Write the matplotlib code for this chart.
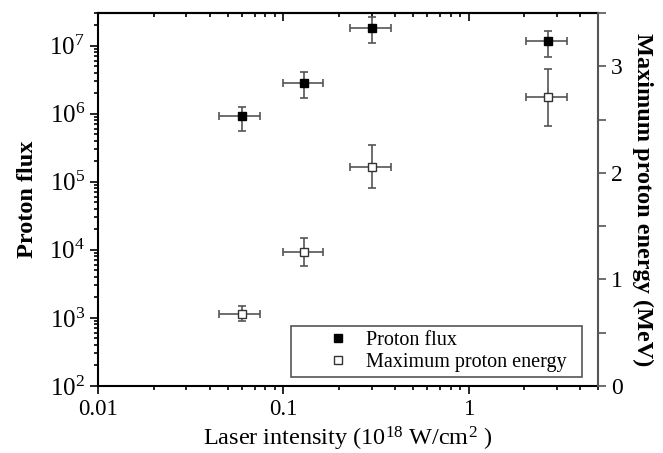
import matplotlib
matplotlib.use('Agg')
import matplotlib.pyplot as plt
from matplotlib.lines import Line2D
from matplotlib.ticker import LogLocator, MultipleLocator, FixedLocator, NullFormatter

plt.rcParams['font.family'] = 'Liberation Serif'
plt.rcParams['mathtext.fontset'] = 'custom'
plt.rcParams['mathtext.rm'] = 'Liberation Serif'
plt.rcParams['mathtext.it'] = 'Liberation Serif:italic'
plt.rcParams['mathtext.bf'] = 'Liberation Serif:bold'

# laser intensity (1e18 W/cm^2) and its error
intensity = [0.06, 0.13, 0.30, 2.7]
intensity_lo = [0.015, 0.03, 0.072, 0.67]
intensity_hi = [0.015, 0.034, 0.08, 0.7]

# proton flux with asymmetric errors
flux = [9.1e5, 2.8e6, 1.8e7, 1.18e7]
flux_lo = [3.6e5, 1.1e6, 0.7e7, 0.49e7]
flux_hi = [3.6e5, 1.3e6, 0.8e7, 0.48e7]

# maximum proton energy (MeV)
energy = [0.68, 1.26, 2.06, 2.71]
energy_err = [0.07, 0.13, 0.20, 0.27]

fig = plt.figure(figsize=(6.63, 4.53), dpi=100)
ax = fig.add_axes([0.148, 0.148, 0.754, 0.823])
ax2 = ax.twinx()

ecol = '#555555'
ax.errorbar(intensity, flux, xerr=[intensity_lo, intensity_hi], yerr=[flux_lo, flux_hi],
            fmt='s', color='black', ms=5.5, ecolor=ecol, elinewidth=1.2, capsize=3, capthick=1.2, zorder=3)
ax2.errorbar(intensity, energy, xerr=[intensity_lo, intensity_hi], yerr=energy_err,
             fmt='s', mfc='white', mec='#333333', ms=6, ecolor=ecol, elinewidth=1.2,
             capsize=3, capthick=1.2, zorder=3)

ax.set_xscale('log')
ax.set_yscale('log')
ax.set_xlim(0.01, 5)
ax.set_ylim(1e2, 3e7)
ax2.set_ylim(0, 3.5)

ax.xaxis.set_major_locator(FixedLocator([0.01, 0.1, 1]))
ax.set_xticklabels(['0.01', '0.1', '1'])
ax.xaxis.set_minor_locator(LogLocator(base=10, subs=range(2, 10), numticks=20))
ax.xaxis.set_minor_formatter(NullFormatter())
ax.yaxis.set_major_locator(LogLocator(base=10, numticks=10))
ax.yaxis.set_minor_locator(LogLocator(base=10, subs=range(2, 10), numticks=20))
ax.yaxis.set_minor_formatter(NullFormatter())

ax.tick_params(axis='both', which='both', direction='out', width=1.2)
ax.tick_params(axis='x', labelsize=16.5)
ax.tick_params(axis='y', labelsize=18)
ax.tick_params(axis='both', which='major', length=6)
ax.tick_params(axis='both', which='minor', length=3)
ax.tick_params(axis='x', which='both', top=False)
ax.tick_params(axis='y', which='both', right=False)

# top axis with inward ticks
top = ax.secondary_xaxis('top')
top.xaxis.set_major_locator(FixedLocator([0.01, 0.1, 1]))
top.xaxis.set_minor_locator(LogLocator(base=10, subs=range(2, 10), numticks=20))
top.tick_params(axis='x', which='both', direction='in', width=1.2, labeltop=False)
top.tick_params(axis='x', which='major', length=6)
top.tick_params(axis='x', which='minor', length=3)
top.xaxis.set_minor_formatter(NullFormatter())
top.spines['top'].set_linewidth(1.5)

ax2.yaxis.set_major_locator(MultipleLocator(1))
ax2.yaxis.set_minor_locator(MultipleLocator(0.5))
ax2.tick_params(axis='y', which='both', labelsize=17, direction='out', width=1.2, color=ecol)
ax2.tick_params(axis='y', which='major', length=6)
ax2.tick_params(axis='y', which='minor', length=6)

for s in ['left', 'bottom', 'top']:
    ax.spines[s].set_linewidth(1.5)
ax2.spines['right'].set_color(ecol)
ax2.spines['right'].set_linewidth(1.5)
ax.spines['right'].set_visible(False)
for s in ['left', 'bottom', 'top']:
    ax2.spines[s].set_visible(False)

ax.set_xlabel('Laser intensity (10$^{18}$ W/cm$^2$ )', fontsize=17.5, labelpad=3)
ax.set_ylabel('Proton flux', fontsize=17.5, fontweight='bold', labelpad=8)
ax2.set_ylabel('Maximum proton energy (MeV)', fontsize=17.5, fontweight='bold',
               rotation=270, labelpad=22)

handles = [Line2D([], [], ls='none', marker='s', color='black', ms=5.5),
           Line2D([], [], ls='none', marker='s', mfc='white', mec='#333333', ms=6)]
leg = ax2.legend(handles, ['Proton flux', 'Maximum proton energy'], loc='lower left',
                 bbox_to_anchor=(0.386, 0.024, 0.582, 0.142), mode='expand',
                 fontsize=14.5, fancybox=False,
                 edgecolor='#555555', framealpha=1, borderpad=0.25, handletextpad=-0.75,
                 labelspacing=0.15, borderaxespad=0, handlelength=4.2)
leg.get_frame().set_linewidth(1.2)

fig.savefig('out.png', dpi=100)
